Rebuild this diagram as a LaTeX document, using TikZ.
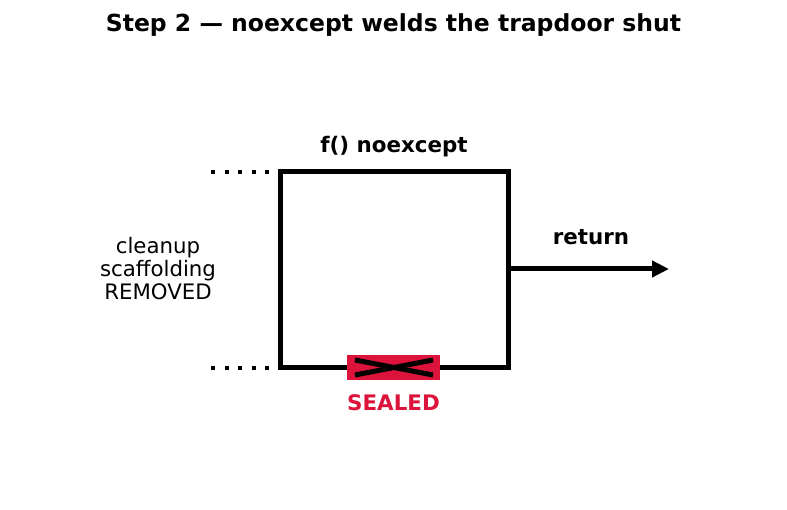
\documentclass[tikz,border=0pt]{standalone}
\usepackage{fontspec}
\setmainfont{DejaVu Sans}
\usetikzlibrary{arrows.meta}
\definecolor{crim}{RGB}{220,20,60}
\begin{document}
\begin{tikzpicture}[x=1pt,y=-1pt,
  lbl/.style={inner sep=0pt,font=\fontsize{21.3}{23}\selectfont},
  blbl/.style={lbl,font=\fontsize{21.4}{23}\selectfont\bfseries},
  dots/.style={line width=3.5pt,dash pattern=on 4pt off 9.5pt},
  thick line/.style={line width=5pt}]
\useasboundingbox (0,0) rectangle (787,510);
\node[inner sep=0pt,font=\fontsize{23.5}{28}\selectfont\bfseries] (title) at (393.5,25) {Step 2 — noexcept welds the trapdoor shut};
\coordinate (tl) at (280,172);
\coordinate (br) at (508,368);
\draw[thick line] (tl) rectangle (br);
\node[blbl] (fn) at (394,147) {f() noexcept};
\coordinate (d1s) at (211,172);
\coordinate (d1e) at (276,172);
\coordinate (d2s) at (211,368);
\coordinate (d2e) at (276,368);
\draw[dots] (d1s) -- (d1e);
\draw[dots] (d2s) -- (d2e);
\node[lbl,align=center] (cleanup) at (158,269) {cleanup\\scaffolding\\REMOVED};
\coordinate (as) at (508,269);
\coordinate (ae) at (669,269);
\draw[thick line,-{Triangle[length=17pt,width=16pt]}] (as) -- (ae);
\node[blbl] (ret) at (591,237) {return};
\node[fill=crim,minimum width=93pt,minimum height=25pt,inner sep=0pt] (seal) at (393.5,367.5) {};
\coordinate (c1) at (355,360);
\coordinate (c2) at (433,375);
\coordinate (c3) at (355,375);
\coordinate (c4) at (433,360);
\draw[thick line] (c1) -- (c2);
\draw[thick line] (c3) -- (c4);
\node[blbl,text=crim] (sealed) at (393.5,403) {SEALED};
\end{tikzpicture}
\end{document}
